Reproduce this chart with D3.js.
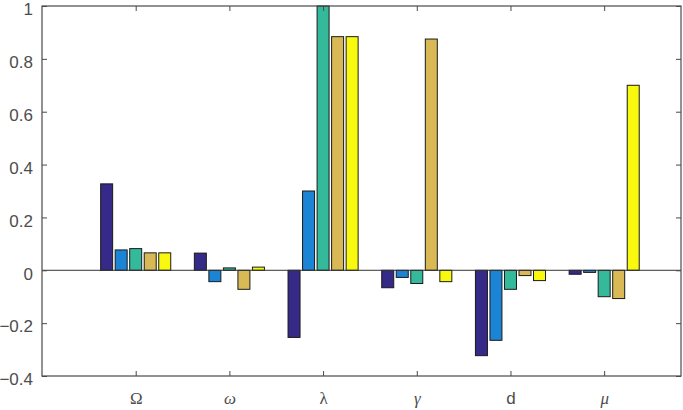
<!DOCTYPE html>
<html>
<head>
<meta charset="utf-8">
<script src="https://cdn.jsdelivr.net/npm/d3@7"></script>
<style>
  body { margin: 0; background: #fff; }
  svg { display: block; }
</style>
</head>
<body>
<svg id="chart" width="683" height="410"></svg>
<script>
// categories along x, with their label style
var categories = ["\u03A9", "\u03C9", "\u03BB", "\u03B3", "d", "\u03BC"];
var catItalic = [false, true, false, true, false, true];
var catSerif = [true, true, true, true, false, true];

// five series, one value per category
var series1 = [0.327, 0.065, -0.254, -0.066, -0.323, -0.015];
var series2 = [0.077, -0.043, 0.300, -0.027, -0.265, -0.008];
var series3 = [0.082, 0.009, 1.000, -0.050, -0.072, -0.100];
var series4 = [0.066, -0.072, 0.884, 0.875, -0.020, -0.107];
var series5 = [0.066, 0.012, 0.884, -0.043, -0.039, 0.700];
var colors = ["#352a87", "#1c84d4", "#35b99b", "#d8b955", "#f9f90f"];

var yTicks = [-0.4, -0.2, 0, 0.2, 0.4, 0.6, 0.8, 1];

var svg = d3.select("#chart");
// plot box edges (note: "top" is reserved on window)
var pLeft = 42, pRight = 681, pTop = 6, pBottom = 376;

var x = d3.scaleLinear().domain([0, 6.82]).range([pLeft, pRight]);
var y = d3.scaleLinear().domain([-0.4, 1]).range([pBottom, pTop]);

var allSeries = [series1, series2, series3, series4, series5];
var step = 0.155, barW = 0.128;

var bars = [];
allSeries.forEach(function(s, si) {
    s.forEach(function(v, ci) {
        bars.push({ s: si, c: ci, v: v });
    });
});

svg.selectAll("rect.bar")
    .data(bars)
    .enter().append("rect")
    .attr("class", "bar")
    .attr("x", function(d) { return x(d.c + 1 + (d.s - 2) * step - barW / 2); })
    .attr("width", function(d) { return x(barW) - x(0); })
    .attr("y", function(d) { return y(Math.max(0, d.v)); })
    .attr("height", function(d) { return Math.abs(y(d.v) - y(0)); })
    .attr("fill", function(d) { return colors[d.s]; })
    .attr("stroke", "#1a1a1a")
    .attr("stroke-width", 1);

// baseline at zero
svg.append("line")
    .attr("x1", pLeft).attr("x2", pRight)
    .attr("y1", y(0)).attr("y2", y(0))
    .attr("stroke", "#333").attr("stroke-width", 1);

// axes box
var axisColor = "#4a4a4a";
svg.append("rect")
    .attr("x", pLeft).attr("y", pTop)
    .attr("width", pRight - pLeft).attr("height", pBottom - pTop)
    .attr("fill", "none").attr("stroke", axisColor).attr("stroke-width", 1.2);

var yAxis = d3.axisLeft(y).tickValues(yTicks).tickSizeInner(-5).tickSizeOuter(0).tickPadding(9)
    .tickFormat(function(d) { return d3.format("")(+d.toFixed(1)); });
var gy = svg.append("g").attr("transform", "translate(" + pLeft + ",0)").call(yAxis);
gy.select(".domain").remove();
gy.selectAll("line").attr("stroke", axisColor);
gy.selectAll("text").attr("fill", "#4d4d4d").attr("font-family", "Liberation Sans, Arial, sans-serif").attr("font-size", 17)
    .attr("dy", "0.52em");

var yAxisR = d3.axisRight(y).tickValues(yTicks).tickSizeInner(-5).tickSizeOuter(0).tickFormat("");
var gyr = svg.append("g").attr("transform", "translate(" + pRight + ",0)").call(yAxisR);
gyr.select(".domain").remove();
gyr.selectAll("line").attr("stroke", axisColor);

var xAxis = d3.axisBottom(x).tickValues([1, 2, 3, 4, 5, 6]).tickSizeInner(-5).tickSizeOuter(0).tickPadding(16)
    .tickFormat(function(d) { return categories[d - 1]; });
var gx = svg.append("g").attr("transform", "translate(0," + pBottom + ")").call(xAxis);
gx.select(".domain").remove();
gx.selectAll("line").attr("stroke", axisColor);
gx.selectAll("text")
    .attr("fill", "#4d4d4d")
    .attr("font-size", 17)
    .attr("font-family", function(d) { return catSerif[d - 1] ? "Liberation Serif, Times New Roman, serif" : "Liberation Sans, Arial, sans-serif"; })
    .attr("font-style", function(d) { return catItalic[d - 1] ? "italic" : "normal"; });

var xAxisT = d3.axisTop(x).tickValues([1, 2, 3, 4, 5, 6]).tickSizeInner(-5).tickSizeOuter(0).tickFormat("");
var gxt = svg.append("g").attr("transform", "translate(0," + pTop + ")").call(xAxisT);
gxt.select(".domain").remove();
gxt.selectAll("line").attr("stroke", axisColor);
</script>
</body>
</html>
